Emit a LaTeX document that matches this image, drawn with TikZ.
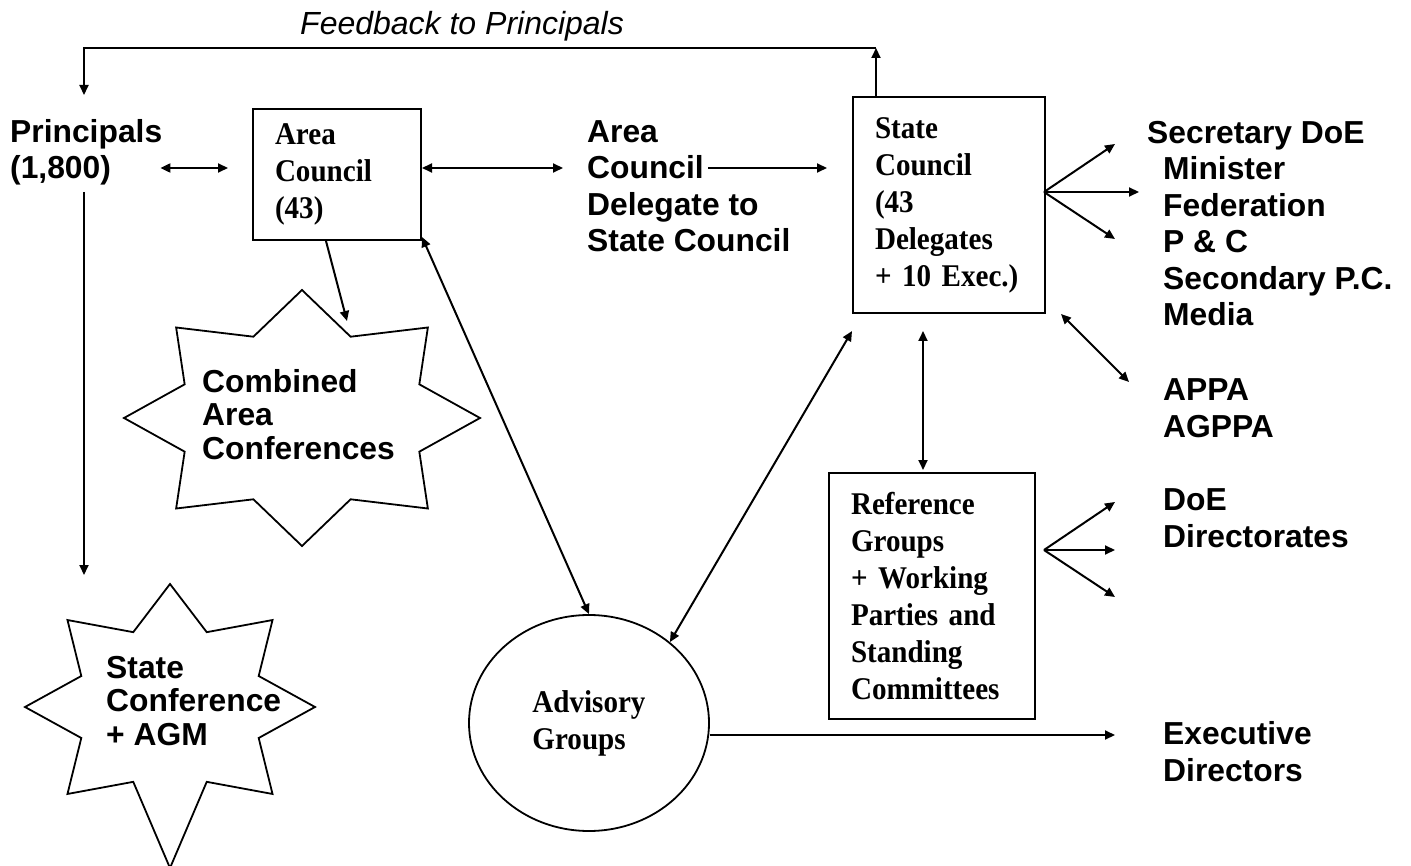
\documentclass[tikz,border=0pt]{standalone}
\usepackage{fontspec}
\setmainfont{Liberation Serif}
\newfontfamily\lblfont{Liberation Sans}
\newfontfamily\boxfont[FakeStretch=0.92]{Liberation Serif}
\usetikzlibrary{shapes.geometric, arrows.meta, positioning, calc}

\tikzset{
  lbl/.style={font=\lblfont\bfseries\fontsize{31.8}{36.5}\selectfont, align=left, inner sep=0pt, anchor=base west},
  startxt/.style={lbl, font=\lblfont\bfseries\fontsize{31.8}{33.5}\selectfont},
  boxtxt/.style={font=\boxfont\bfseries\fontsize{31.6}{37}\selectfont},
  panel/.style={draw, line width=2pt, boxtxt, align=left, anchor=north west, inner xsep=22pt, inner ysep=0pt},
  link/.style={line width=2pt, -{Triangle[length=10pt,width=9pt]}},
  twoway/.style={line width=2pt, {Triangle[length=10pt,width=9pt]}-{Triangle[length=10pt,width=9pt]}},
  starline/.style={line width=1.8pt, line join=miter},
}

\begin{document}
\begin{tikzpicture}[x=1pt, y=-1pt]
    \useasboundingbox (0,0) rectangle (1411,866);
    \fill[white] (0,0) rectangle (1411,866);

    % Boxes and circle
    \node[panel, text width=124pt, minimum width=168pt, minimum height=131pt] (areacouncil) at (252,108) {Area\\Council\\(43)};
    \node[panel, text width=148pt, minimum width=192pt, minimum height=216pt] (statecouncil) at (852,96) {State\\Council\\(43\\Delegates\\+ 10 Exec.)};
    \node[panel, text width=162pt, minimum width=206pt, minimum height=246pt] (refgroups) at (828,472) {Reference\\Groups\\+ Working\\Parties and\\Standing\\Committees};
    \node[ellipse, draw, line width=1.8pt, minimum width=240pt, minimum height=216pt, inner sep=0pt, boxtxt, align=left] (advisory) at (589,723) {Advisory\\Groups};

    % Stars
    \draw[starline, shift={(302,418)}] (0:178 and 128) \foreach \a in {45,90,...,360} {-- (\a-22.5:127 and 88) -- (\a:178 and 128)} -- cycle;
    \draw[starline, shift={(170,707)}] (0:145 and 123) \foreach \a/\ry in {45/123,90/161,135/123,180/123,225/123,270/123,315/123,360/123} {-- (\a-22.5:96 and 81) -- (\a:145 and \ry)} -- cycle;

    % Labels (placed by the baseline of their last line)
    \node[font=\lblfont\itshape\fontsize{32}{36}\selectfont, anchor=base west, inner sep=0pt] (feedback) at (300,35) {Feedback to Principals};
    \node[lbl] (principals) at (10,179) {Principals\\(1,800)};
    \node[lbl] (delegate) at (587,252) {Area\\Council\\Delegate to\\State Council};
    \node[lbl] (outside) at (1147,326) {Secretary DoE\\\hspace*{16pt}Minister\\\hspace*{16pt}Federation\\\hspace*{16pt}P \& C\\\hspace*{16pt}Secondary P.C.\\\hspace*{16pt}Media};
    \node[lbl] (appa) at (1163,437) {APPA\\AGPPA};
    \node[lbl] (directorates) at (1163,547) {DoE\\Directorates};
    \node[lbl] (execdirs) at (1163,781) {Executive\\Directors};
    \node[startxt] (combined) at (202,459) {Combined\\Area\\Conferences};
    \node[startxt] (stateconf) at (106,745) {State\\Conference\\+ AGM};

    % Free ends
    \coordinate (row) at (0,168);
    \coordinate (fbright) at (876,48);
    \coordinate (fbleft) at (84,48);
    \coordinate (fbend) at (84,95);
    \coordinate (sctip) at (84,575);
    \coordinate (cactop) at (347,321);
    \coordinate (vlink) at (923,0);
    \coordinate (appatip) at (1129,382);
    \coordinate (scfan) at (1044,192);
    \coordinate (rgfan) at (1044,550);
    \coordinate (exectip) at (1115,735);

    % Feedback loop
    \draw[link] (statecouncil.north -| fbright) -- (fbright);
    \draw[link] (fbright) -- (fbleft) -- (fbend);

    % Top row
    \draw[twoway] ([xshift=-2pt]principals.east |- row) -- ([xshift=-24pt]areacouncil.west |- row);
    \draw[twoway] (areacouncil.east |- row) -- ([xshift=-24pt]delegate.west |- row);
    \draw[link] ([xshift=121pt]delegate.west |- row) -- ([xshift=-25pt]statecouncil.west |- row);

    % Downward links
    \draw[link] (fbleft |- 0,192) -- (sctip);
    \draw[link] ([xshift=-11pt]areacouncil.south) -- (cactop);
    \draw[twoway] ([yshift=4pt]areacouncil.south east) -- (advisory.north);
    \draw[twoway] (advisory.45) -- ([yshift=-17pt]statecouncil.south west);
    \draw[twoway] ([yshift=-17pt]vlink |- statecouncil.south) -- ([yshift=2pt]vlink |- refgroups.north);
    \draw[twoway] ([xshift=15pt]statecouncil.south east) -- (appatip);
    \draw[link] ([yshift=-12pt]advisory.east) -- (exectip);

    % Fans
    \foreach \tip in {(1115,144),(1139,192),(1115,239)}
        \draw[link] (scfan) -- \tip;
    \foreach \tip in {(1115,502),(1115,550),(1115,597)}
        \draw[link] (rgfan) -- \tip;
\end{tikzpicture}
\end{document}
